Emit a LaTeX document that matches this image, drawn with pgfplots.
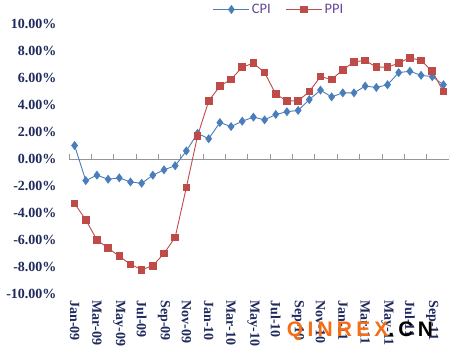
\documentclass[border=0pt]{standalone}
\usepackage{pgfplots}
\pgfplotsset{compat=1.18}
\usepackage{fontspec}
\setmainfont{Liberation Serif}
\newfontfamily\carlito{Carlito}
\newfontfamily\wmfont[LetterSpace=20]{Liberation Sans}
\definecolor{cpiblue}{RGB}{74,126,187}
\definecolor{ppired}{RGB}{190,75,72}
\definecolor{navy}{RGB}{31,42,92}
\definecolor{legpurple}{RGB}{100,70,150}
\definecolor{wmorange}{RGB}{245,110,20}
\definecolor{axgray}{RGB}{150,150,150}

\pgfplotstableread{
x cpi ppi
0 1.0 -3.3
1 -1.6 -4.5
2 -1.2 -6.0
3 -1.5 -6.6
4 -1.4 -7.2
5 -1.7 -7.8
6 -1.8 -8.2
7 -1.2 -7.9
8 -0.8 -7.0
9 -0.5 -5.8
10 0.6 -2.1
11 1.9 1.7
12 1.5 4.3
13 2.7 5.4
14 2.4 5.9
15 2.8 6.8
16 3.1 7.1
17 2.9 6.4
18 3.3 4.8
19 3.5 4.3
20 3.6 4.3
21 4.4 5.0
22 5.1 6.1
23 4.6 5.9
24 4.9 6.6
25 4.9 7.2
26 5.4 7.3
27 5.3 6.8
28 5.5 6.8
29 6.4 7.1
30 6.5 7.5
31 6.2 7.3
32 6.1 6.5
33 5.5 5.0
}\datatable

\begin{document}
\begin{tikzpicture}
\begin{axis}[name=ax, scale only axis, width=380pt, height=270pt,
  xmin=-0.5, xmax=33.5, ymin=-10, ymax=10,
  axis line style={draw=none},
  xtick={0,2,...,32},
  xticklabels={Jan-09,Mar-09,May-09,Jul-09,Sep-09,Nov-09,Jan-10,Mar-10,May-10,Jul-10,Sep-10,Nov-10,Jan-11,Mar-11,May-11,Jul-11,Sep-11},
  ytick={-10,-8,...,10},
  yticklabels={-10.00\%,-8.00\%,-6.00\%,-4.00\%,-2.00\%,0.00\%,2.00\%,4.00\%,6.00\%,8.00\%,10.00\%},
  major tick length=0pt,
  xtick pos=bottom, ytick pos=left,
  tick label style={font=\fontsize{14}{14}\selectfont\bfseries, text=navy},
  xticklabel style={rotate=-90, anchor=west},
  xticklabel shift=3pt,
  yticklabel shift=9pt,
  legend style={at={(axis description cs:0.553,1.0537)}, anchor=center, draw=none, fill=none,
    font=\carlito\fontsize{14.5}{14.5}\selectfont, text=legpurple,
    /tikz/every even column/.append style={column sep=13pt}},
  legend columns=2,
  legend image code/.code={\draw[mark repeat=2,mark phase=2] plot coordinates {(0pt,0pt) (18pt,0pt) (36pt,0pt)};},
]
\addplot[axgray, line width=0.8pt, forget plot] coordinates {(-0.5,0) (33.5,0)};
\addplot[ycomb, axgray, line width=0.8pt, no markers, forget plot] coordinates {
(-0.5,0.37) (1.5,0.37) (3.5,0.37) (5.5,0.37) (7.5,0.37) (9.5,0.37) (11.5,0.37) (13.5,0.37) (15.5,0.37)
(17.5,0.37) (19.5,0.37) (21.5,0.37) (23.5,0.37) (25.5,0.37) (27.5,0.37) (29.5,0.37) (31.5,0.37) (33.5,0.37)};
\addplot[cpiblue, line width=0.9pt, mark=diamond*, mark size=3.8pt, mark options={fill=cpiblue, draw=cpiblue}] table[x=x, y=cpi] {\datatable};
\addlegendentry{CPI}
\addplot[ppired, line width=0.9pt, mark=square*, mark size=3.3pt, mark options={fill=ppired, draw=ppired}] table[x=x, y=ppi] {\datatable};
\addlegendentry{PPI}
\end{axis}
\node[anchor=center, inner sep=0pt] at ([shift={(291pt,-37pt)}]ax.south west)
  {\wmfont\bfseries\fontsize{21}{21}\selectfont\textcolor{wmorange}{QINREX}.CN};
\pgfresetboundingbox
\path ([shift={(-69pt,-59pt)}]ax.south west) rectangle ([shift={(3pt,24pt)}]ax.north east);
\end{tikzpicture}
\end{document}
